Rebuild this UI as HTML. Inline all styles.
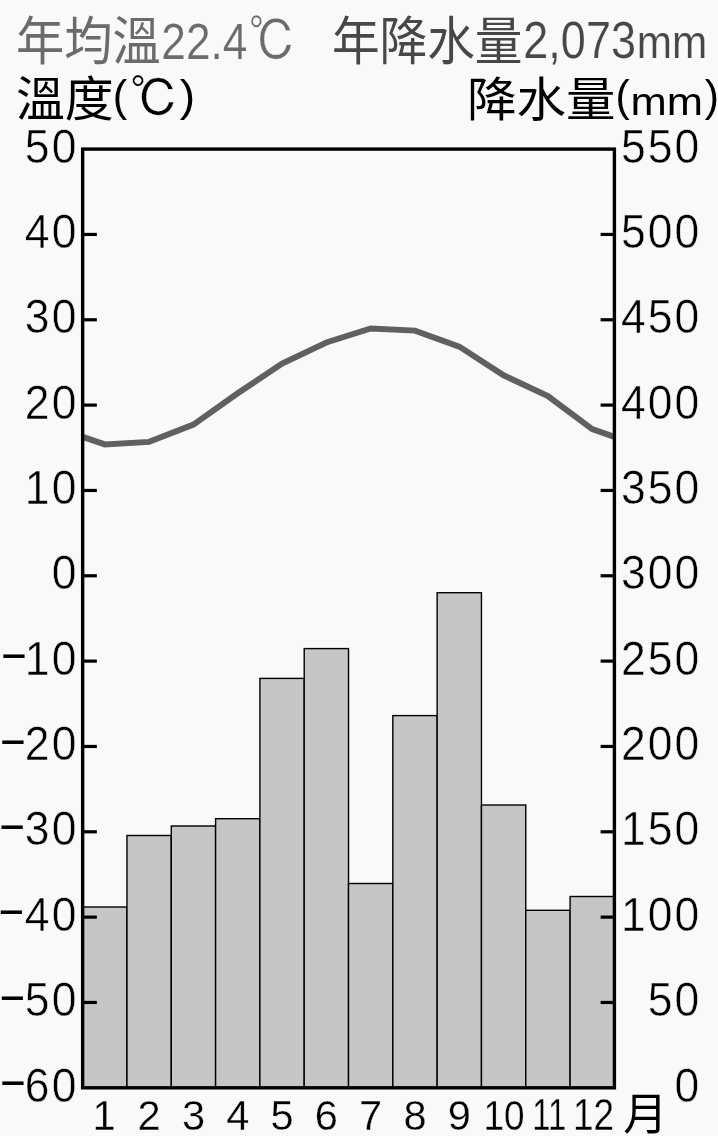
<!DOCTYPE html>
<html lang="zh-Hant"><head><meta charset="utf-8"><title>氣候圖</title>
<style>html,body{margin:0;padding:0;background:#f9f9f9;}body{width:718px;height:1136px;overflow:hidden;}svg{display:block;}text{font-family:"Liberation Sans", "Noto Sans CJK TC", sans-serif;}.ipa{font-family:"Liberation Sans", "IPAGothic", sans-serif;}</style></head><body>
<svg width="718" height="1136" viewBox="0 0 718 1136">
<rect x="0" y="0" width="718" height="1136" fill="#f9f9f9"/>
<g fill="#c6c6c6" stroke="#000" stroke-width="1.4">
<rect x="82.65" y="907.00" width="44.31" height="180.80"/>
<rect x="126.96" y="835.50" width="44.31" height="252.30"/>
<rect x="171.28" y="826.00" width="44.31" height="261.80"/>
<rect x="215.59" y="818.70" width="44.31" height="269.10"/>
<rect x="259.90" y="678.40" width="44.31" height="409.40"/>
<rect x="304.21" y="648.60" width="44.31" height="439.20"/>
<rect x="348.52" y="883.50" width="44.31" height="204.30"/>
<rect x="392.84" y="715.60" width="44.31" height="372.20"/>
<rect x="437.15" y="592.70" width="44.31" height="495.10"/>
<rect x="481.46" y="805.00" width="44.31" height="282.80"/>
<rect x="525.77" y="910.30" width="44.31" height="177.50"/>
<rect x="570.09" y="896.50" width="44.31" height="191.30"/>
</g>
<polyline fill="none" stroke="#606060" stroke-width="6" stroke-linejoin="miter" points="82.7,436.8 104.8,444.4 149.1,441.9 193.4,424.6 237.7,393.3 282.1,363.5 326.4,342.5 370.7,328.4 415.0,330.6 459.3,346.6 503.6,375.3 547.9,396.1 592.2,429.1 614.4,436.8"/>
<rect x="82.65" y="149.10" width="531.75" height="938.70" fill="none" stroke="#000" stroke-width="3.4"/>
<g stroke="#000" stroke-width="3.2">
<line x1="82.65" y1="234.44" x2="96.85" y2="234.44"/>
<line x1="600.60" y1="234.44" x2="614.40" y2="234.44"/>
<line x1="82.65" y1="319.77" x2="96.85" y2="319.77"/>
<line x1="600.60" y1="319.77" x2="614.40" y2="319.77"/>
<line x1="82.65" y1="405.11" x2="96.85" y2="405.11"/>
<line x1="600.60" y1="405.11" x2="614.40" y2="405.11"/>
<line x1="82.65" y1="490.45" x2="96.85" y2="490.45"/>
<line x1="600.60" y1="490.45" x2="614.40" y2="490.45"/>
<line x1="82.65" y1="575.78" x2="96.85" y2="575.78"/>
<line x1="600.60" y1="575.78" x2="614.40" y2="575.78"/>
<line x1="82.65" y1="661.12" x2="96.85" y2="661.12"/>
<line x1="600.60" y1="661.12" x2="614.40" y2="661.12"/>
<line x1="82.65" y1="746.45" x2="96.85" y2="746.45"/>
<line x1="600.60" y1="746.45" x2="614.40" y2="746.45"/>
<line x1="82.65" y1="831.79" x2="96.85" y2="831.79"/>
<line x1="600.60" y1="831.79" x2="614.40" y2="831.79"/>
<line x1="82.65" y1="917.13" x2="96.85" y2="917.13"/>
<line x1="600.60" y1="917.13" x2="614.40" y2="917.13"/>
<line x1="82.65" y1="1002.46" x2="96.85" y2="1002.46"/>
<line x1="600.60" y1="1002.46" x2="614.40" y2="1002.46"/>
</g>
<g font-size="47.29" letter-spacing="2.24" fill="#000" stroke="#f9f9f9" stroke-width="0.5">
<text transform="translate(24.85 162.80) scale(0.9407 1)">50</text>
<text transform="translate(620.94 162.80) scale(0.9407 1)">550</text>
<text transform="translate(24.85 248.14) scale(0.9407 1)">40</text>
<text transform="translate(620.94 248.14) scale(0.9407 1)">500</text>
<text transform="translate(24.85 333.47) scale(0.9407 1)">30</text>
<text transform="translate(620.94 333.47) scale(0.9407 1)">450</text>
<text transform="translate(24.85 418.81) scale(0.9407 1)">20</text>
<text transform="translate(620.94 418.81) scale(0.9407 1)">400</text>
<text transform="translate(24.85 504.15) scale(0.9407 1)">10</text>
<text transform="translate(620.94 504.15) scale(0.9407 1)">350</text>
<text transform="translate(51.65 589.48) scale(0.9407 1)">0</text>
<text transform="translate(620.94 589.48) scale(0.9407 1)">300</text>
<text transform="translate(24.85 674.82) scale(0.9407 1)">10</text>
<text transform="translate(1.38 672.47) scale(0.9130 1)" letter-spacing="0" stroke="#000" stroke-width="0.3">−</text>
<text transform="translate(620.94 674.82) scale(0.9407 1)">250</text>
<text transform="translate(24.85 760.15) scale(0.9407 1)">20</text>
<text transform="translate(0.44 757.80) scale(0.9130 1)" letter-spacing="0" stroke="#000" stroke-width="0.3">−</text>
<text transform="translate(620.94 760.15) scale(0.9407 1)">200</text>
<text transform="translate(24.85 845.49) scale(0.9407 1)">30</text>
<text transform="translate(-0.26 843.14) scale(0.9130 1)" letter-spacing="0" stroke="#000" stroke-width="0.3">−</text>
<text transform="translate(620.94 845.49) scale(0.9407 1)">150</text>
<text transform="translate(24.85 930.83) scale(0.9407 1)">40</text>
<text transform="translate(-0.97 928.48) scale(0.9130 1)" letter-spacing="0" stroke="#000" stroke-width="0.3">−</text>
<text transform="translate(620.94 930.83) scale(0.9407 1)">100</text>
<text transform="translate(24.85 1016.16) scale(0.9407 1)">50</text>
<text transform="translate(-0.03 1013.81) scale(0.9130 1)" letter-spacing="0" stroke="#000" stroke-width="0.3">−</text>
<text transform="translate(647.75 1016.16) scale(0.9407 1)">50</text>
<text transform="translate(24.85 1101.50) scale(0.9407 1)">60</text>
<text transform="translate(0.44 1099.15) scale(0.9130 1)" letter-spacing="0" stroke="#000" stroke-width="0.3">−</text>
<text transform="translate(674.55 1101.50) scale(0.9407 1)">0</text>
</g>
<g font-size="43.44" fill="#000" stroke="#f9f9f9" stroke-width="0.3">
<text transform="translate(92.52 1130.00) scale(0.9570 1)">1</text>
<text transform="translate(137.52 1130.00) scale(0.9570 1)">2</text>
<text transform="translate(181.95 1130.00) scale(0.9570 1)">3</text>
<text transform="translate(226.26 1130.00) scale(0.9570 1)">4</text>
<text transform="translate(270.57 1130.00) scale(0.9570 1)">5</text>
<text transform="translate(314.65 1130.00) scale(0.9570 1)">6</text>
<text transform="translate(359.08 1130.00) scale(0.9570 1)">7</text>
<text transform="translate(403.39 1130.00) scale(0.9570 1)">8</text>
<text transform="translate(447.82 1130.00) scale(0.9570 1)">9</text>
<text transform="translate(483.49 1130.00) scale(0.8506 1)">10</text>
<text transform="translate(532.20 1130.00) scale(0.7547 1)">11</text>
<text transform="translate(572.98 1130.00) scale(0.8512 1)">12</text>
</g>
<text transform="translate(623.22 1129.55) scale(0.9872 1.0000)" font-size="44.84" fill="#000">月</text>
<text transform="translate(16.10 59.55) scale(0.9191 1.0000)" font-size="52.43" fill="#6b6b6b">年均溫</text>
<text transform="translate(161.33 58.50) scale(0.8684 1.0000)" font-size="50.90" fill="#6b6b6b" stroke="#f9f9f9" stroke-width="0.2">22.4</text>
<text transform="translate(248.41 61.00) scale(0.8624 1.0000)" font-size="55.55" fill="#6b6b6b" stroke="#f9f9f9" stroke-width="0.4" class="ipa">℃</text>
<text transform="translate(331.90 59.65) scale(0.9201 1.0000)" font-size="51.78" fill="#474747">年降水量</text>
<text transform="translate(523.31 58.25) scale(0.8777 1.0000)" font-size="51.31" fill="#474747" stroke="#f9f9f9" stroke-width="0.2">2,073</text>
<text transform="translate(636.85 58.40) scale(0.9063 1.0000)" font-size="46.70" fill="#474747" stroke="#f9f9f9" stroke-width="0.2">mm</text>
<text transform="translate(15.96 116.40) scale(1.0202 1.0000)" font-size="47.89" fill="#000">溫度</text>
<text transform="translate(112.70 110.95) scale(0.9826 1.0000)" font-size="43.97" fill="#000">(</text>
<text transform="translate(129.95 117.40) scale(0.9624 1.0000)" font-size="50.91" fill="#000" stroke="#f9f9f9" stroke-width="0.3" class="ipa">℃</text>
<text transform="translate(179.67 110.95) scale(1.0522 1.0000)" font-size="43.97" fill="#000">)</text>
<text transform="translate(466.96 116.20) scale(1.0494 1.0000)" font-size="47.15" fill="#000">降水量</text>
<text transform="translate(615.40 110.70) scale(0.9826 1.0000)" font-size="43.54" fill="#000">(</text>
<text transform="translate(630.60 115.20) scale(1.1197 1.0000)" font-size="38.88" fill="#000">mm</text>
<text transform="translate(704.75 110.70) scale(0.9826 1.0000)" font-size="43.54" fill="#000">)</text>
</svg></body></html>
